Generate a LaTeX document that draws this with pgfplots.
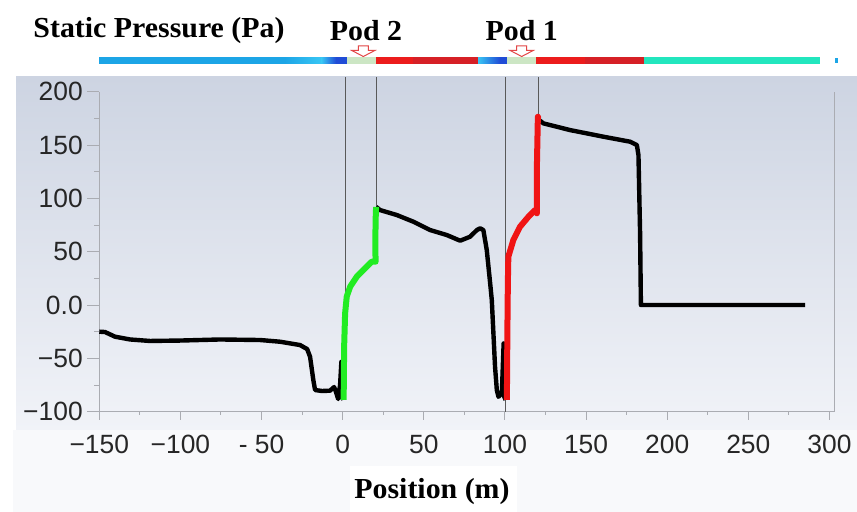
\documentclass[border=0pt]{standalone}
\usepackage{fontspec}
\setmainfont{Liberation Serif}
\setsansfont{Liberation Sans}
\usepackage{pgfplots}
\pgfplotsset{compat=1.18}
\definecolor{bgtop}{RGB}{205,212,226}
\definecolor{bgbot}{RGB}{241,243,248}
\definecolor{barblue}{RGB}{28,165,230}
\definecolor{barcyan}{RGB}{56,198,244}
\definecolor{bardark}{RGB}{32,76,214}
\definecolor{barpale}{RGB}{204,230,196}
\definecolor{barred}{RGB}{236,28,28}
\definecolor{barredd}{RGB}{214,32,38}
\definecolor{barturq}{RGB}{34,230,190}
\definecolor{podgreen}{RGB}{34,236,34}
\definecolor{podred}{RGB}{240,20,20}
\definecolor{arrowred}{RGB}{226,70,70}
\definecolor{axgray}{RGB}{170,172,178}
\begin{document}
\begin{tikzpicture}
\path[use as bounding box] (0,0) rectangle (428.5pt,256pt);
\begin{scope}[x=0.5pt,y=-0.5pt,yshift=256pt]
  \fill[white] (0,0) rectangle (857,512);
  \shade[top color=bgtop,bottom color=bgbot] (16,77) rectangle (857,430);
  \fill[bgbot!50!white] (13,430) rectangle (857,512);
  \fill[white] (350,466) rectangle (517,512);
  % colour bar
  \fill[barblue] (99.3,57.3) rectangle (285,64);
  \shade[left color=barblue,right color=barcyan] (284.5,57.3) rectangle (322,64);
  \shade[left color=barcyan,right color=bardark] (321.5,57.3) rectangle (336,64);
  \fill[bardark] (335.5,57.3) rectangle (347,64);
  \fill[barpale] (346.7,57.3) rectangle (376,64);
  \fill[barred] (376,57.3) rectangle (413,64);
  \fill[barredd] (413,57.3) rectangle (478,64);
  \shade[left color=barcyan,right color=bardark] (478,57.3) rectangle (500,64);
  \fill[bardark] (499.5,57.3) rectangle (507.3,64);
  \fill[barpale] (507.3,57.3) rectangle (536,64);
  \fill[barred] (536,57.3) rectangle (585,64);
  \fill[barredd] (585,57.3) rectangle (644,64);
  \fill[barturq] (644,57.3) rectangle (820,64);
  \fill[barblue] (835,58) rectangle (838,63);
  % arrows
  \foreach \cx in {363.3,521.7}{
    \draw[arrowred,fill=white,line width=0.5pt] (\cx-5,46) -- (\cx+5,46) -- (\cx+5,50.5) -- (\cx+11.5,50.5) -- (\cx,56.5) -- (\cx-11.5,50.5) -- (\cx-5,50.5) -- cycle;
  }
  % titles
  \node[anchor=base,inner sep=0pt] at (159,38) {\scalebox{1.03}[1]{\fontsize{14.5}{16}\selectfont\bfseries Static Pressure (Pa)}};
  \node[anchor=base,inner sep=0pt] at (366,40.5) {\scalebox{1.03}[1]{\fontsize{14.5}{16}\selectfont\bfseries Pod 2}};
  \node[anchor=base,inner sep=0pt] at (521.7,40.5) {\scalebox{1.03}[1]{\fontsize{14.5}{16}\selectfont\bfseries Pod 1}};
  \node[anchor=base,inner sep=0pt] at (432,499) {\scalebox{1.03}[1]{\fontsize{14.5}{16}\selectfont\bfseries Position (m)}};
\end{scope}
\begin{axis}[
  at={(49.65pt,50.15pt)}, anchor=south west,
  scale only axis, width=367.5pt, height=160pt,
  xmin=-150, xmax=303, ymin=-100, ymax=200,
  axis x line*=bottom, axis y line*=left,
  axis line style={draw=axgray, line width=0.5pt, -},
  tick align=outside,
  xtick={-150,-100,-50,0,50,100,150,200,250,300},
  xticklabels={−150,−100,- 50,0,50,100,150,200,250,300},
  ytick={-100,-50,0,50,100,150,200},
  yticklabels={−100,−50,0.0,50,100,150,200},
  minor x tick num=1, minor y tick num=1,
  tick style={draw=axgray, line width=0.5pt},
  xtick style={/pgfplots/major tick length=4pt,/pgfplots/minor tick length=1.6pt},
  ytick style={/pgfplots/major tick length=6pt,/pgfplots/minor tick length=2.6pt},
  ticklabel style={font=\sffamily\fontsize{13.2}{15}\selectfont, text=black!85},
  xticklabel style={yshift=-3.8pt},
  yticklabel style={xshift=-0.5pt},
  clip=false,
]
% pod boundary lines
\addplot[black!65, line width=0.5pt] coordinates {(1.5,213.7) (1.5,-89)};
\addplot[black!65, line width=0.5pt] coordinates {(20.9,213.7) (20.9,92)};
\addplot[black!65, line width=0.5pt] coordinates {(100.1,213.7) (100.1,-100)};
\addplot[black!65, line width=0.5pt] coordinates {(120.6,213.7) (120.6,176)};
\draw[axgray, line width=0.5pt] (rel axis cs:1,0) -- (rel axis cs:1,1);
% upstream section
\addplot[black, line width=2.2pt, line join=round] coordinates {
(-150,-25.0) (-146.5,-25.3) (-140.3,-29.7) (-131,-32.3) (-118.7,-33.7)
(-100.2,-33.3) (-75.6,-32.3) (-50.9,-32.8) (-38.6,-34.4) (-26.3,-37.5)
(-21.9,-41.3) (-20.1,-48.5) (-18.1,-70.3) (-17,-79.7) (-12.7,-80.6)
(-7.8,-80.3) (-5.3,-76.9) (-4.1,-81.6) (-2.8,-88.1) (-1.6,-75)
(-0.8,-53.2) (-0.4,-84.4) (0.4,-89)
};
% between pods
\addplot[black, line width=2.2pt, line join=round] coordinates {
(20.6,92) (23.1,89) (33.3,84.4) (43.6,78.1) (53.9,70.3) (64.2,65.6)
(72.4,60.3) (78.5,64) (82.7,70.3) (84.7,71.9) (86.7,70.3) (88.8,51.6)
(90.9,20.3) (91.9,4.7) (92.9,-26.5) (93.9,-57.8) (95,-79.7) (96,-86)
(98.1,-82.8) (99.2,-36) (99.6,-86) (100.4,-89)
};
% downstream section
\addplot[black, line width=2.2pt, line join=round] coordinates {
(120.6,174) (123.7,170.3) (140.2,164) (160.7,157.8) (177.2,153.1)
(181.3,150) (182.3,140.6) (183.3,67.2) (183.8,0) (285,0)
};
% pod 2
\addplot[podgreen, line width=3pt, line join=round] coordinates {
(0.6,-89) (0.9,-39) (1.5,-7.8) (2.5,7.8) (4.6,17.2) (8.7,26.6)
(13.8,34.4) (17.9,40.6) (20.3,40.6) (20.1,55) (20.3,80) (20.6,92)
};
% pod 1
\addplot[podred, line width=3pt, line join=round] coordinates {
(101.2,-89) (101.5,-26.5) (101.8,20.3) (102.1,45.3) (105.2,61) (109.3,73.4)
(114.5,82.8) (118.6,89) (119.7,86) (119.7,129.7) (120.3,176.5) (120.6,175)
};
\end{axis}
\end{tikzpicture}
\end{document}
